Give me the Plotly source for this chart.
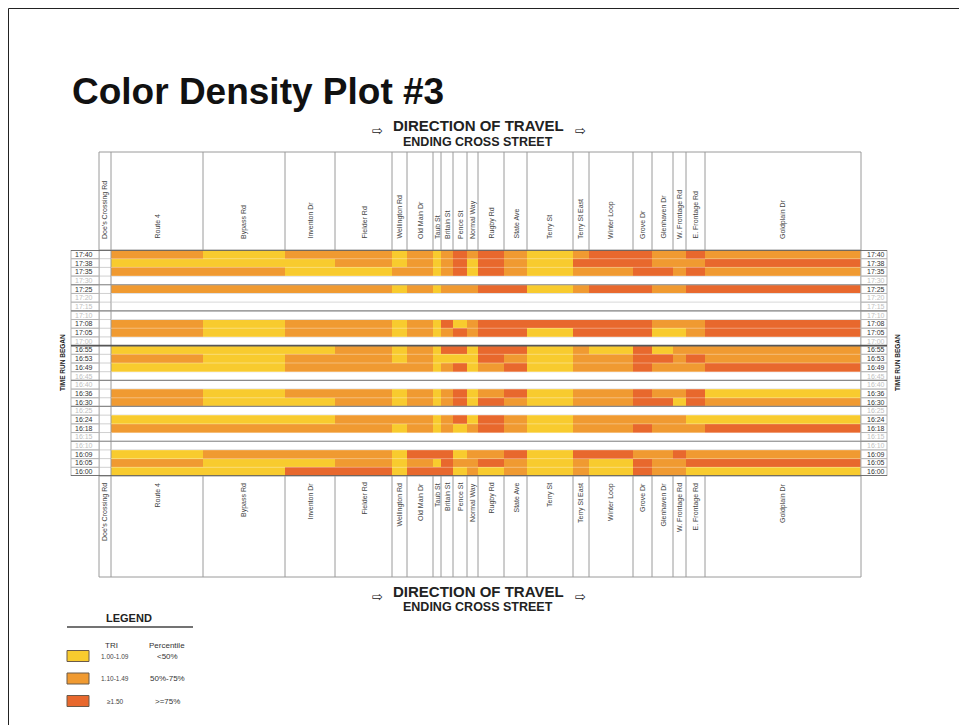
import plotly.graph_objects as go

# the page body has an 8px margin, so the figure starts at screen (8, 8)
OFF = 8
W, H = 967 - OFF, 725 - OFF

# ---------------- data ----------------
streets = ["Doe's Crossing Rd", "Route 4", "Bypass Rd", "Inventon Dr", "Fielder Rd",
           "Wellington Rd", "Old Main Dr", "Taub St", "Britain St", "Pence St",
           "Normal Way", "Rugby Rd", "State Ave", "Terry St", "Terry St East",
           "Winter Loop", "Grove Dr", "Glenhaven Dr", "W. Frontage Rd",
           "E. Frontage Rd", "Goldplain Dr"]
# relative segment length of each block (drawn as column width)
segment_len = [12, 92, 82, 50, 57, 15, 26, 8, 12, 14, 11, 26, 23, 46, 16, 44, 19, 21, 13, 19, 156]

run_times = ["17:40", "17:38", "17:35", "17:30", "17:25", "17:20", "17:15", "17:10",
             "17:08", "17:05", "17:00", "16:55", "16:53", "16:49", "16:45", "16:40",
             "16:36", "16:30", "16:25", "16:24", "16:18", "16:15", "16:10", "16:09",
             "16:05", "16:00"]

# TRI class per ending cross street (Route 4 ... Goldplain Dr):
# Y = 1.00-1.09, O = 1.10-1.49, R = >=1.50 ; "" = no run at that time
runs = [
    "OYOOYOYORORO" + "YORROORO",   # 17:40
    "YYYOYOYORYRO" + "YRRROOOR",   # 17:38
    "OOYYOOYORYRO" + "YOORRORO",   # 17:35
    "",                            # 17:30
    "OOOOYOYOOORR" + "YORROORR",   # 17:25
    "",                            # 17:20
    "",                            # 17:15
    "",                            # 17:10
    "OYOOYOYRYORR" + "RRRROOOR",   # 17:08
    "OYOOYOYORORR" + "YRRRYYOR",   # 17:05
    "",                            # 17:00
    "YYYOYOYRRYRR" + "YOYRYOOO",   # 16:55
    "OYOOYOYYYYRO" + "YOORRORO",   # 16:53
    "YYOOOOYORYOR" + "YOOROOOR",   # 16:49
    "",                            # 16:45
    "",                            # 16:40
    "OYOOYOYORYOR" + "YOOROORY",   # 16:36
    "OYYOYOYORYRO" + "YOORRYRO",   # 16:30
    "",                            # 16:25
    "YYYOOOYORYRO" + "YOOOOOYY",   # 16:24
    "OOOOYOYOYORO" + "YOOROOOR",   # 16:18
    "",                            # 16:15
    "",                            # 16:10
    "YOOOYRRRYOOR" + "YRROOROO",   # 16:09
    "OYYOYOYROORO" + "YOYROORR",   # 16:05
    "YYRRYRRRYOYO" + "YOYROOYY",   # 16:00
]

level = {"Y": 1, "O": 2, "R": 3}
colors = {1: "#F8CB2E", 2: "#F09A31", 3: "#E8682D"}
legend_tri = ["1.00-1.09", "1.10-1.49", "\u22651.50"]
legend_pct = ["<50%", "50%-75%", ">=75%"]

# ---------------- helpers ----------------
def px(p):
    return (p - OFF) / W

def py(p):
    return 1 - (p - OFF) / H

edges = [0]
for s in segment_len:
    edges.append(edges[-1] + s)
centers = [(edges[i] + edges[i + 1]) / 2 for i in range(len(segment_len))]
nrows = len(run_times)

z = []
for r in runs:
    if r:
        z.append([None] + [level[c] for c in r])
    else:
        z.append([None] * len(streets))

cs = [[0, colors[1]], [0.3333, colors[1]], [0.3334, colors[2]], [0.6666, colors[2]],
      [0.6667, colors[3]], [1, colors[3]]]

fig = go.Figure()
fig.add_trace(go.Heatmap(
    x=edges, y=list(range(nrows)), z=z, zmin=1, zmax=3, colorscale=cs,
    showscale=False, hoverinfo="skip", xgap=0, ygap=0))

X0, X1 = 99, 861          # grid left/right px
Y0, Y1 = 250, 476         # data top/bottom px
fig.update_layout(
    width=W, height=H, margin=dict(l=0, r=0, t=0, b=0),
    paper_bgcolor="white", plot_bgcolor="rgba(0,0,0,0)", showlegend=False,
    xaxis=dict(domain=[px(X0), px(X1)], range=[0, edges[-1]], visible=False, fixedrange=True),
    yaxis=dict(domain=[py(Y1), py(Y0)], range=[nrows - 0.5, -0.5], visible=False, fixedrange=True),
    font=dict(family="Liberation Sans, Arial, sans-serif", color="#333"),
)

shapes = []
ann = []
grey = "#9a9a9a"


def text(x, y, s, size, color="#333", xanchor="center", yanchor="middle", xref="paper", yref="paper",
         angle=0, family=None):
    f = dict(size=size, color=color)
    if family:
        f["family"] = family
    ann.append(dict(x=x, y=y, xref=xref, yref=yref, text=s, showarrow=False, xanchor=xanchor,
                    yanchor=yanchor, textangle=angle, font=f))


# slide frame
for (xa, ya, xb, yb) in [(8.5, 8.5, 8.5, 725), (8.5, 8.5, 959.5, 8.5), (959.5, 8.5, 959.5, 725)]:
    shapes.append(dict(type="line", xref="paper", yref="paper", x0=px(xa), x1=px(xb), y0=py(ya), y1=py(yb),
                       line=dict(color="#222", width=1)))

# header boxes (top and bottom)
for (ya, yb) in [(152, 250), (476, 577)]:
    shapes.append(dict(type="rect", xref="paper", yref="paper", x0=px(X0), x1=px(X1), y0=py(yb), y1=py(ya),
                       line=dict(color=grey, width=1)))
    for e in edges[1:-1]:
        shapes.append(dict(type="line", xref="x", yref="paper", x0=e, x1=e, y0=py(yb), y1=py(ya),
                           line=dict(color=grey, width=1)))

# vertical lines through the data grid (Doe's column and edges)
for e in [edges[0], edges[1], edges[-1]]:
    shapes.append(dict(type="line", xref="x", yref="paper", x0=e, x1=e, y0=py(Y1), y1=py(Y0),
                       line=dict(color=grey, width=1)))

# row boundaries
for i in range(nrows + 1):
    yv = i - 0.5
    shapes.append(dict(type="line", xref="paper", yref="y", x0=px(71), x1=px(887), y0=yv, y1=yv,
                       line=dict(color="#d0d0d0", width=1), layer="below"))
    shapes.append(dict(type="line", xref="x", yref="y", x0=edges[1], x1=edges[-1], y0=yv, y1=yv,
                       line=dict(color="rgba(255,255,255,0.35)", width=1)))
# time label boxes
for xa, xb in [(71, X0), (X1, 887)]:
    for i in range(nrows + 1):
        yv = i - 0.5
        shapes.append(dict(type="line", xref="paper", yref="y", x0=px(xa), x1=px(xb), y0=yv, y1=yv,
                           line=dict(color="#b5b5b5", width=1)))
    for xx in (xa, xb):
        shapes.append(dict(type="line", xref="paper", yref="y", x0=px(xx), x1=px(xx), y0=-0.5,
                           y1=nrows - 0.5, line=dict(color="#b5b5b5", width=1)))

# separator lines every quarter hour
for b, w, c in [(3.5, 1.2, "#8a8a8a"), (6.5, 1.2, "#8a8a8a"), (10.5, 1.6, "#555"),
                (14.5, 1.2, "#8a8a8a"), (17.5, 1.2, "#8a8a8a"), (21.5, 1.2, "#8a8a8a"),
                (-0.5, 1.6, "#555"), (nrows - 0.5, 1.6, "#555")]:
    shapes.append(dict(type="line", xref="paper", yref="y", x0=px(71), x1=px(887), y0=b, y1=b,
                       line=dict(color=c, width=w)))

# column labels top and bottom
for c, name in zip(centers, streets):
    text(c, py(241), name, 7, "#444", yanchor="bottom", xref="x", angle=-90)
    text(c, py(481), name, 7, "#444", yanchor="top", xref="x", angle=-90)

# time labels
for i, t in enumerate(run_times):
    col = "#333" if runs[i] else "#c0c0c0"
    text(px(73), i, t, 7, col, xanchor="left", yref="y")
    text(px(865), i, t, 7, col, xanchor="left", yref="y")

# axis titles
for xx in (62, 897):
    text(px(xx), py(363), "<b>TIME RUN BEGAN</b>", 6.5, "#222", angle=-90)

# title
text(px(70), py(92), "<b>Color Density Plot #3</b>", 37, "#111", xanchor="left")

# direction of travel (top and bottom)
for yt in (126, 591):
    text(px(478), py(yt), "<b>DIRECTION OF TRAVEL</b>", 15, "#222")
    text(px(478), py(yt + 15.5), "<b>ENDING CROSS STREET</b>", 12.5, "#222")
    for xa in (377, 580):
        text(px(xa), py(yt + 5), "\u21e8", 13, "#222", family="DejaVu Sans")

# legend
text(px(129), py(618), "<b>LEGEND</b>", 11, "#222")
shapes.append(dict(type="line", xref="paper", yref="paper", x0=px(67), x1=px(193), y0=py(627), y1=py(627),
                   line=dict(color="#444", width=1.5)))
text(px(111), py(645), "TRI", 8, "#333")
text(px(167), py(645), "Percentile", 8, "#333")
for k, yc in zip([1, 2, 3], [656, 678.5, 701]):
    shapes.append(dict(type="rect", xref="paper", yref="paper", x0=px(67), x1=px(89),
                       y0=py(yc + 5.5), y1=py(yc - 5.5), fillcolor=colors[k],
                       line=dict(color="#6b5a4a", width=1)))
    text(px(115), py(yc), legend_tri[k - 1], 6.5, "#444")
    text(px(167), py(yc), legend_pct[k - 1], 8, "#333")

fig.update_layout(shapes=shapes, annotations=ann)
fig.write_html("out.html")
